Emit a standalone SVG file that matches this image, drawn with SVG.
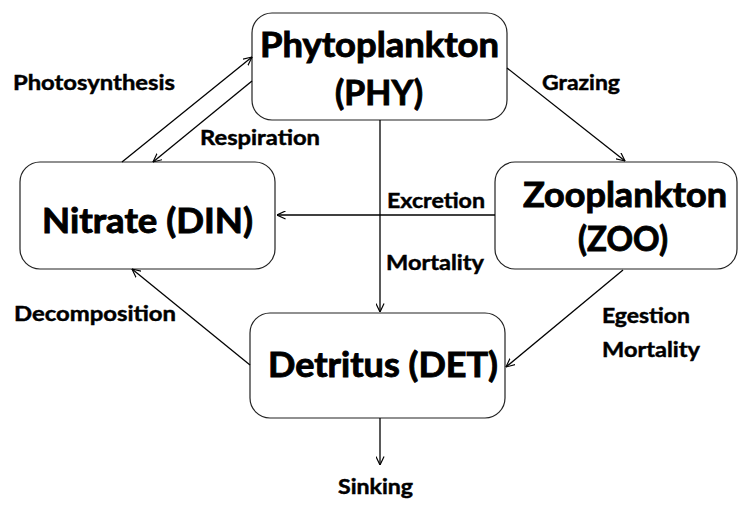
<svg xmlns="http://www.w3.org/2000/svg" width="739" height="505" viewBox="0 0 739 505">
  <defs>
    <marker id="arrow" viewBox="0 0 10 10" refX="9.5" refY="5" markerWidth="9" markerHeight="9" markerUnits="userSpaceOnUse" orient="auto">
      <path d="M0,0.5 L9.5,5 L0,9.5" fill="none" stroke="#000" stroke-width="1.3"/>
    </marker>
    <style>
      .box { fill: #fff; stroke: #222; stroke-width: 1.2; }
      .node-label { font-family: Lato, "Liberation Sans", sans-serif; font-weight: bold; font-size: 34px; fill: #000; stroke: #000; stroke-width: 0.9; }
      .flow-label { font-family: Lato, "Liberation Sans", sans-serif; font-weight: bold; font-size: 20.5px; fill: #000; stroke: #000; stroke-width: 0.45; }
      .link { stroke: #000; stroke-width: 1.3; fill: none; marker-end: url(#arrow); }
    </style>
  </defs>
  <rect width="739" height="505" fill="#fff"/>

  <!-- boxes -->
  <g id="node-phy">
    <rect class="box" x="252" y="13" width="255" height="107" rx="20"/>
    <text class="node-label" x="260" y="57" textLength="239" lengthAdjust="spacingAndGlyphs">Phytoplankton</text>
    <text class="node-label" x="335" y="105" textLength="88" lengthAdjust="spacingAndGlyphs">(PHY)</text>
  </g>
  <g id="node-din">
    <rect class="box" x="20" y="162" width="255" height="107" rx="20"/>
    <text class="node-label" x="42" y="233" textLength="211" lengthAdjust="spacingAndGlyphs">Nitrate (DIN)</text>
  </g>
  <g id="node-zoo">
    <rect class="box" x="495" y="162" width="242" height="107" rx="20"/>
    <text class="node-label" x="523" y="207" textLength="204" lengthAdjust="spacingAndGlyphs">Zooplankton</text>
    <text class="node-label" x="578" y="251" textLength="90" lengthAdjust="spacingAndGlyphs">(ZOO)</text>
  </g>
  <g id="node-det">
    <rect class="box" x="250" y="313" width="255" height="105" rx="20"/>
    <text class="node-label" x="268" y="377" textLength="230" lengthAdjust="spacingAndGlyphs">Detritus (DET)</text>
  </g>

  <!-- fluxes between pools -->
  <g id="connectors">
    <line class="link" x1="122" y1="162" x2="252" y2="57"/>
    <line class="link" x1="252" y1="81" x2="153" y2="162"/>
    <line class="link" x1="507" y1="68" x2="625" y2="161"/>
    <line class="link" x1="495" y1="215" x2="277" y2="215"/>
    <line class="link" x1="380" y1="120" x2="380" y2="312"/>
    <line class="link" x1="623" y1="270" x2="506" y2="367"/>
    <line class="link" x1="250" y1="365" x2="132" y2="269"/>
    <line class="link" x1="380" y1="418" x2="380" y2="465"/>
  </g>

  <!-- flux labels -->
  <g id="labels">
    <text class="flow-label" x="13" y="90" textLength="162" lengthAdjust="spacingAndGlyphs">Photosynthesis</text>
    <text class="flow-label" x="200" y="145" textLength="120" lengthAdjust="spacingAndGlyphs">Respiration</text>
    <text class="flow-label" x="542" y="90" textLength="78" lengthAdjust="spacingAndGlyphs">Grazing</text>
    <text class="flow-label" x="387" y="208" textLength="98" lengthAdjust="spacingAndGlyphs">Excretion</text>
    <text class="flow-label" x="386" y="270" textLength="98" lengthAdjust="spacingAndGlyphs">Mortality</text>
    <text class="flow-label" x="14" y="321" textLength="162" lengthAdjust="spacingAndGlyphs">Decomposition</text>
    <text class="flow-label" x="602" y="323" textLength="88" lengthAdjust="spacingAndGlyphs">Egestion</text>
    <text class="flow-label" x="602" y="357" textLength="98" lengthAdjust="spacingAndGlyphs">Mortality</text>
    <text class="flow-label" x="338" y="494" textLength="75" lengthAdjust="spacingAndGlyphs">Sinking</text>
  </g>
</svg>
